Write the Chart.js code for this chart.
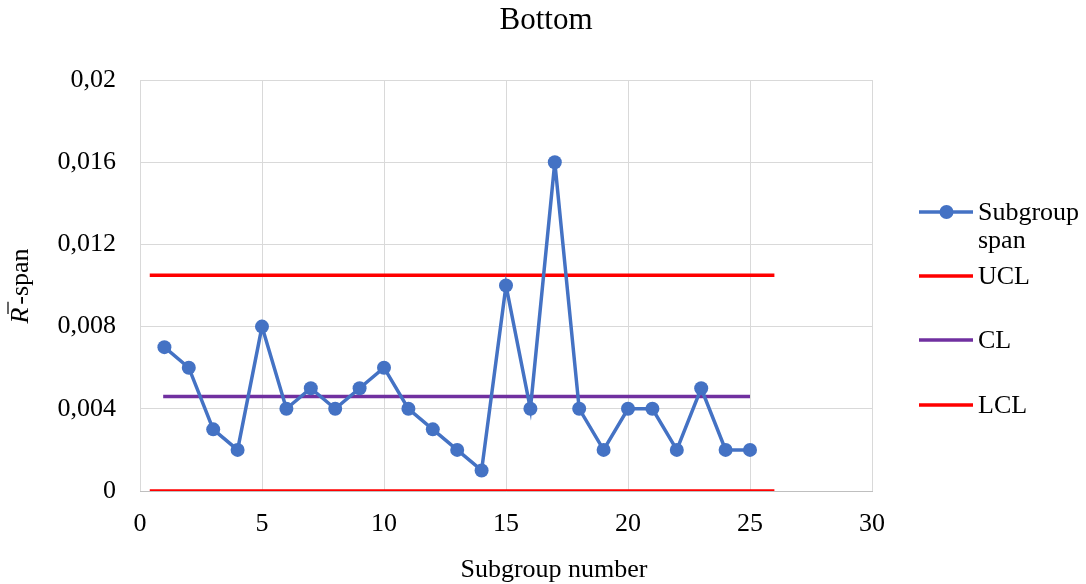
<!DOCTYPE html>
<html><head><meta charset="utf-8">
<script src="https://cdn.jsdelivr.net/npm/chart.js@4/dist/chart.umd.min.js"></script>
<style>html,body{margin:0;padding:0;background:#fff}#wrap{width:1086px;height:584px}</style>
</head><body><div id="wrap"><canvas id="c" width="1086" height="584"></canvas></div>
<script>
const subgroups = [1,2,3,4,5,6,7,8,9,10,11,12,13,14,15,16,17,18,19,20,21,22,23,24,25];
const spanValues = [0.007,0.006,0.003,0.002,0.008,0.004,0.005,0.004,0.005,0.006,0.004,0.003,0.002,0.001,0.010,0.004,0.016,0.004,0.002,0.004,0.004,0.002,0.005,0.002,0.002];
const uclValue = 0.0105;
const clValue = 0.0046;
const lclValue = 0;
const limitXRange = [0.4, 26];
const clXRange = [0.95, 25];
const seriesLabels = ['Subgroup span','UCL','CL','LCL'];
const chartTitle = 'Bottom';
const xAxisTitle = 'Subgroup number';
const yAxisTitleParts = ['R', '-span'];
const xTicks = [0,5,10,15,20,25,30];
const yTickLabels = {0:'0',0.004:'0,004',0.008:'0,008',0.012:'0,012',0.016:'0,016',0.02:'0,02'};

const FONT = "'Liberation Serif','Times New Roman',serif";
const colors = ['#4472C4','#FF0000','#7030A0','#FF0000'];

const decorPlugin = {
  id:'decor',
  afterDraw(chart){
    const ctx = chart.ctx;
    ctx.save();
    // chart title
    ctx.font = "31px " + FONT;
    ctx.fillStyle = '#000';
    ctx.textAlign = 'center';
    ctx.textBaseline = 'middle';
    ctx.fillText(chartTitle, 546, 21);
    // x axis title
    ctx.font = "26px " + FONT;
    ctx.fillText(xAxisTitle, 554, 570);
    // y axis title with italic R and overline
    const ca = chart.chartArea;
    ctx.save();
    ctx.translate(28, 286);
    ctx.rotate(-Math.PI/2);
    ctx.textAlign = 'left';
    ctx.textBaseline = 'alphabetic';
    ctx.font = "italic 26px " + FONT;
    const wR = ctx.measureText(yAxisTitleParts[0]).width;
    ctx.font = "26px " + FONT;
    const wS = ctx.measureText(yAxisTitleParts[1]).width;
    const gap = 3;
    const x0 = -(wR+gap+wS)/2;
    ctx.font = "italic 26px " + FONT;
    ctx.fillText(yAxisTitleParts[0], x0, 0);
    ctx.font = "26px " + FONT;
    ctx.fillText(yAxisTitleParts[1], x0+wR+gap, 0);
    ctx.strokeStyle = '#000'; ctx.lineWidth = 1.2;
    ctx.beginPath(); ctx.moveTo(x0+wR*0.6, -20); ctx.lineTo(x0+wR+gap+3, -20); ctx.stroke();
    ctx.restore();
    // legend
    ctx.font = "26px " + FONT;
    ctx.textAlign = 'left';
    ctx.textBaseline = 'middle';
    const rows = [212,276,340,405];
    rows.forEach((y,i)=>{
      ctx.strokeStyle = colors[i]; ctx.lineWidth = 3.5;
      ctx.beginPath(); ctx.moveTo(919,y); ctx.lineTo(973,y); ctx.stroke();
      if(i===0){ctx.fillStyle=colors[0];ctx.beginPath();ctx.arc(946.5,y,7,0,Math.PI*2);ctx.fill();}
      ctx.fillStyle='#000';
      const lines = i===0 ? seriesLabels[0].split(' ') : [seriesLabels[i]];
      lines.forEach((t,j)=>ctx.fillText(t,978,y+1+j*28));
    });
    ctx.restore();
  }
};

const ctx = document.getElementById('c').getContext('2d');
new Chart(ctx,{
  type:'line',
  data:{datasets:[
    {label:seriesLabels[0],data:subgroups.map((x,i)=>({x:x,y:spanValues[i]})),borderColor:colors[0],backgroundColor:colors[0],borderWidth:3.5,pointRadius:7,pointHoverRadius:7,pointBackgroundColor:colors[0],pointBorderWidth:0,tension:0,order:0},
    {label:seriesLabels[1],data:limitXRange.map(x=>({x:x,y:uclValue})),borderColor:colors[1],borderWidth:3.5,pointRadius:0,order:1},
    {label:seriesLabels[2],data:clXRange.map(x=>({x:x,y:clValue})),borderColor:colors[2],borderWidth:3.5,pointRadius:0,order:1},
    {label:seriesLabels[3],data:limitXRange.map(x=>({x:x,y:lclValue})),borderColor:colors[3],borderWidth:3.5,pointRadius:0,order:1}
  ]},
  options:{
    responsive:false,animation:false,
    layout:{padding:{left:0,right:214,top:80,bottom:0}},
    plugins:{legend:{display:false},tooltip:{enabled:false},title:{display:false}},
    scales:{
      x:{type:'linear',min:0,max:30,
        afterBuildTicks:s=>{s.ticks=xTicks.map(v=>({value:v}));},
        ticks:{color:'#000',font:{family:FONT,size:26},padding:18,maxRotation:0},
        grid:{color:'#d9d9d9',lineWidth:1,drawTicks:false},
        border:{color:'#bfbfbf',width:1},
        title:{display:false},
        afterFit:s=>{s.height=93;}
      },
      y:{type:'linear',min:0,max:0.02,
        ticks:{stepSize:0.004,color:'#000',font:{family:FONT,size:26},padding:24,callback:v=>{const k=Math.round(v*1000)/1000;return yTickLabels[k]!==undefined?yTickLabels[k]:'';}},
        grid:{color:'#d9d9d9',lineWidth:1,drawTicks:false},
        border:{display:false},
        title:{display:false},
        afterFit:s=>{s.width=140;}
      }
    }
  },
  plugins:[decorPlugin]
});
</script>
</body></html>
